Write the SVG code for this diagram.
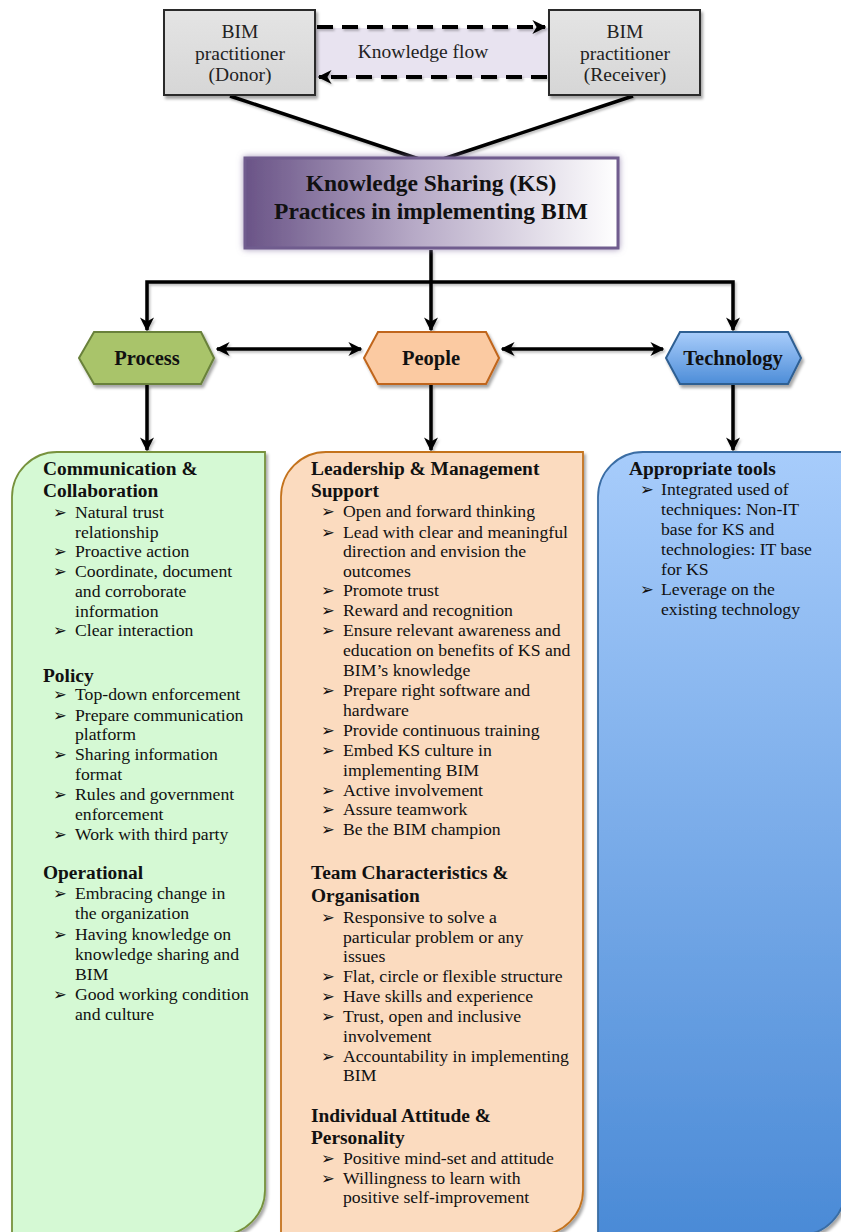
<svg xmlns="http://www.w3.org/2000/svg" width="841" height="1232" viewBox="0 0 841 1232">
  <style>
    .t { font-family: "Liberation Serif", "DejaVu Serif", serif; font-size: 17.7px; fill: #111; }
    .h { font-family: "Liberation Serif", "DejaVu Serif", serif; font-size: 19.4px; font-weight: bold; fill: #111; }
    .b { font-family: "DejaVu Sans", sans-serif; font-size: 16.5px; fill: #111; }
    .box { font-family: "Liberation Serif", "DejaVu Serif", serif; font-size: 19.5px; fill: #222; text-anchor: middle; }
    .hex { font-family: "Liberation Serif", "DejaVu Serif", serif; font-size: 20.5px; font-weight: bold; fill: #111; text-anchor: middle; }
    .ks { font-family: "Liberation Serif", "DejaVu Serif", serif; font-size: 23.5px; font-weight: bold; fill: #111; text-anchor: middle; }
    .line { fill: none; stroke: #000; stroke-width: 3.5; }
    .dash { fill: none; stroke: #000; stroke-width: 4; stroke-dasharray: 16 9; }
  </style>
  <defs>
    <filter id="shadow" x="-10%" y="-10%" width="130%" height="130%">
      <feDropShadow dx="2" dy="3" stdDeviation="1.8" flood-color="#000" flood-opacity="0.35"/>
    </filter>
    <filter id="soft" x="-5%" y="-5%" width="110%" height="110%">
      <feDropShadow dx="1.5" dy="2" stdDeviation="1.2" flood-color="#000" flood-opacity="0.25"/>
    </filter>
    <filter id="glow" x="-10%" y="-20%" width="120%" height="140%">
      <feGaussianBlur in="SourceAlpha" stdDeviation="3" result="b"/>
      <feFlood flood-color="#8a78a6" flood-opacity="0.8"/>
      <feComposite in2="b" operator="in" result="g"/>
      <feMerge><feMergeNode in="g"/><feMergeNode in="SourceGraphic"/></feMerge>
    </filter>
    <linearGradient id="ksFill" x1="0" y1="0" x2="1" y2="0">
      <stop offset="0" stop-color="#6a5487"/>
      <stop offset="0.45" stop-color="#b6a9c6"/>
      <stop offset="1" stop-color="#ffffff"/>
    </linearGradient>
    <linearGradient id="greyFill" x1="0" y1="0" x2="0" y2="1">
      <stop offset="0" stop-color="#e4e4e4"/>
      <stop offset="1" stop-color="#d6d6d6"/>
    </linearGradient>
    <linearGradient id="techHex" x1="0" y1="0" x2="0" y2="1">
      <stop offset="0" stop-color="#a9cdfb"/>
      <stop offset="1" stop-color="#4d8dd8"/>
    </linearGradient>
    <linearGradient id="techPanel" x1="0" y1="0" x2="0" y2="1">
      <stop offset="0" stop-color="#a7ccfb"/>
      <stop offset="1" stop-color="#4a8ad6"/>
    </linearGradient>
    <marker id="arr" viewBox="0 0 10 10" refX="9" refY="5" markerWidth="4" markerHeight="4" orient="auto-start-reverse" markerUnits="strokeWidth">
      <path d="M0,0 L10,5 L0,10 L3,5 Z" fill="#000"/>
    </marker>
    <marker id="arrD" viewBox="0 0 10 10" refX="9" refY="5" markerWidth="3.5" markerHeight="3.5" orient="auto" markerUnits="strokeWidth">
      <path d="M0,0 L10,5 L0,10 L3,5 Z" fill="#000"/>
    </marker>
  </defs>

  <!-- knowledge flow band between practitioners -->
  <rect x="315" y="28" width="234" height="50" fill="#e8e3f0"/>

  <!-- connectors -->
  <g id="connectors" filter="url(#soft)">
    <line class="dash" x1="317" y1="27" x2="545" y2="27" marker-end="url(#arrD)"/>
    <line class="dash" x1="547" y1="77" x2="319" y2="77" marker-end="url(#arrD)"/>
    <line class="line" x1="230" y1="96" x2="428" y2="162"/>
    <line class="line" x1="633" y1="96" x2="434" y2="162"/>
    <line class="line" x1="431" y1="250" x2="431" y2="330" marker-end="url(#arr)"/>
    <polyline class="line" points="147,330 147,282 733,282 733,330" marker-start="url(#arr)" marker-end="url(#arr)"/>
    <line class="line" x1="217" y1="349" x2="361" y2="349" marker-start="url(#arr)" marker-end="url(#arr)"/>
    <line class="line" x1="502" y1="349" x2="663" y2="349" marker-start="url(#arr)" marker-end="url(#arr)"/>
    <line class="line" x1="147" y1="385" x2="147" y2="450" marker-end="url(#arr)"/>
    <line class="line" x1="431" y1="385" x2="431" y2="450" marker-end="url(#arr)"/>
    <line class="line" x1="733" y1="385" x2="733" y2="450" marker-end="url(#arr)"/>
  </g>

  <!-- practitioners -->
  <g id="donor">
    <rect x="164" y="10" width="151" height="85" fill="url(#greyFill)" stroke="#2a2a2a" stroke-width="2" filter="url(#shadow)"/>
    <text class="box" x="240" y="38">BIM</text>
    <text class="box" x="240" y="60">practitioner</text>
    <text class="box" x="240" y="81">(Donor)</text>
  </g>
  <g id="receiver">
    <rect x="549" y="10" width="151" height="85" fill="url(#greyFill)" stroke="#2a2a2a" stroke-width="2" filter="url(#shadow)"/>
    <text class="box" x="625" y="38">BIM</text>
    <text class="box" x="625" y="60">practitioner</text>
    <text class="box" x="625" y="81">(Receiver)</text>
  </g>
  <g id="flow-label">
    <text class="box" x="423" y="58">Knowledge flow</text>
  </g>

  <!-- central practice box -->
  <g id="ks-practices">
    <rect x="245" y="158" width="373" height="90" fill="url(#ksFill)" stroke="#6f5c8e" stroke-width="3" filter="url(#glow)"/>
    <text class="ks" x="431" y="191">Knowledge Sharing (KS)</text>
    <text class="ks" x="431" y="219">Practices in implementing BIM</text>
  </g>

  <!-- pillars -->
  <g id="process">
    <polygon points="79,358 94,332 201,332 214,358 201,384 94,384" fill="#a9c46b" stroke="#69813a" stroke-width="2" filter="url(#shadow)"/>
    <text class="hex" x="147" y="365">Process</text>
  </g>
  <g id="people">
    <polygon points="364,358 378,332 486,332 499,358 486,384 378,384" fill="#fbcaa2" stroke="#c0651a" stroke-width="2" filter="url(#shadow)"/>
    <text class="hex" x="431" y="365">People</text>
  </g>
  <g id="technology">
    <polygon points="666,358 680,332 788,332 801,358 788,384 680,384" fill="url(#techHex)" stroke="#2f5f92" stroke-width="2" filter="url(#shadow)"/>
    <text class="hex" x="733" y="365">Technology</text>
  </g>

  <!-- process panel -->
  <g id="process-panel">
    <path d="M12,1240 L12,497 A45,45 0 0 1 57,452 L265,452 L265,1190 A45,45 0 0 1 220,1235 Z" fill="#d5f9d4" stroke="#77923d" stroke-width="1.8" filter="url(#shadow)"/>
    <text class="h" x="43" y="475">Communication &amp;</text>
    <text class="h" x="43" y="497">Collaboration</text>
    <text class="b" x="53" y="518">➢</text><text class="t" x="75" y="518">Natural trust</text>
    <text class="t" x="75" y="538">relationship</text>
    <text class="b" x="53" y="557">➢</text><text class="t" x="75" y="557">Proactive action</text>
    <text class="b" x="53" y="577">➢</text><text class="t" x="75" y="577">Coordinate, document</text>
    <text class="t" x="75" y="597">and corroborate</text>
    <text class="t" x="75" y="617">information</text>
    <text class="b" x="53" y="636">➢</text><text class="t" x="75" y="636">Clear interaction</text>
    <text class="h" x="43" y="682">Policy</text>
    <text class="b" x="53" y="700">➢</text><text class="t" x="75" y="700">Top-down enforcement</text>
    <text class="b" x="53" y="721">➢</text><text class="t" x="75" y="721">Prepare communication</text>
    <text class="t" x="75" y="740">platform</text>
    <text class="b" x="53" y="760">➢</text><text class="t" x="75" y="760">Sharing information</text>
    <text class="t" x="75" y="780">format</text>
    <text class="b" x="53" y="800">➢</text><text class="t" x="75" y="800">Rules and government</text>
    <text class="t" x="75" y="820">enforcement</text>
    <text class="b" x="53" y="840">➢</text><text class="t" x="75" y="840">Work with third party</text>
    <text class="h" x="43" y="879">Operational</text>
    <text class="b" x="53" y="899">➢</text><text class="t" x="75" y="899">Embracing change in</text>
    <text class="t" x="75" y="919">the organization</text>
    <text class="b" x="53" y="940">➢</text><text class="t" x="75" y="940">Having knowledge on</text>
    <text class="t" x="75" y="960">knowledge sharing and</text>
    <text class="t" x="75" y="980">BIM</text>
    <text class="b" x="53" y="1000">➢</text><text class="t" x="75" y="1000">Good working condition</text>
    <text class="t" x="75" y="1020">and culture</text>
  </g>

  <!-- people panel -->
  <g id="people-panel">
    <path d="M281,1240 L281,497 A45,45 0 0 1 326,452 L583,452 L583,1190 A45,45 0 0 1 538,1235 Z" fill="#fbdbbf" stroke="#c4731f" stroke-width="1.8" filter="url(#shadow)"/>
    <text class="h" x="311" y="475">Leadership &amp; Management</text>
    <text class="h" x="311" y="497">Support</text>
    <text class="b" x="321" y="517">➢</text><text class="t" x="343" y="517">Open and forward thinking</text>
    <text class="b" x="321" y="538">➢</text><text class="t" x="343" y="538">Lead with clear and meaningful</text>
    <text class="t" x="343" y="557">direction and envision the</text>
    <text class="t" x="343" y="577">outcomes</text>
    <text class="b" x="321" y="596">➢</text><text class="t" x="343" y="596">Promote trust</text>
    <text class="b" x="321" y="616">➢</text><text class="t" x="343" y="616">Reward and recognition</text>
    <text class="b" x="321" y="636">➢</text><text class="t" x="343" y="636">Ensure relevant awareness and</text>
    <text class="t" x="343" y="656">education on benefits of KS and</text>
    <text class="t" x="343" y="676">BIM’s knowledge</text>
    <text class="b" x="321" y="696">➢</text><text class="t" x="343" y="696">Prepare right software and</text>
    <text class="t" x="343" y="716">hardware</text>
    <text class="b" x="321" y="736">➢</text><text class="t" x="343" y="736">Provide continuous training</text>
    <text class="b" x="321" y="756">➢</text><text class="t" x="343" y="756">Embed KS culture in</text>
    <text class="t" x="343" y="776">implementing BIM</text>
    <text class="b" x="321" y="796">➢</text><text class="t" x="343" y="796">Active involvement</text>
    <text class="b" x="321" y="815">➢</text><text class="t" x="343" y="815">Assure teamwork</text>
    <text class="b" x="321" y="835">➢</text><text class="t" x="343" y="835">Be the BIM champion</text>
    <text class="h" x="311" y="879">Team Characteristics &amp;</text>
    <text class="h" x="311" y="902">Organisation</text>
    <text class="b" x="321" y="923">➢</text><text class="t" x="343" y="923">Responsive to solve a</text>
    <text class="t" x="343" y="943">particular problem or any</text>
    <text class="t" x="343" y="962">issues</text>
    <text class="b" x="321" y="982">➢</text><text class="t" x="343" y="982">Flat, circle or flexible structure</text>
    <text class="b" x="321" y="1002">➢</text><text class="t" x="343" y="1002">Have skills and experience</text>
    <text class="b" x="321" y="1022">➢</text><text class="t" x="343" y="1022">Trust, open and inclusive</text>
    <text class="t" x="343" y="1042">involvement</text>
    <text class="b" x="321" y="1062">➢</text><text class="t" x="343" y="1062">Accountability in implementing</text>
    <text class="t" x="343" y="1081">BIM</text>
    <text class="h" x="311" y="1122">Individual Attitude &amp;</text>
    <text class="h" x="311" y="1144">Personality</text>
    <text class="b" x="321" y="1164">➢</text><text class="t" x="343" y="1164">Positive mind-set and attitude</text>
    <text class="b" x="321" y="1184">➢</text><text class="t" x="343" y="1184">Willingness to learn with</text>
    <text class="t" x="343" y="1203">positive self-improvement</text>
  </g>

  <!-- technology panel -->
  <g id="technology-panel">
    <path d="M598,1240 L598,497 A45,45 0 0 1 643,452 L845,452 L845,1190 A45,45 0 0 1 800,1235 Z" fill="url(#techPanel)" stroke="#3a6da4" stroke-width="1.8" filter="url(#shadow)"/>
    <text class="h" x="629" y="475">Appropriate tools</text>
    <text class="b" x="640" y="495">➢</text><text class="t" x="661" y="495">Integrated used of</text>
    <text class="t" x="661" y="515">techniques: Non-IT</text>
    <text class="t" x="661" y="535">base for KS and</text>
    <text class="t" x="661" y="555">technologies: IT base</text>
    <text class="t" x="661" y="575">for KS</text>
    <text class="b" x="640" y="595">➢</text><text class="t" x="661" y="595">Leverage on the</text>
    <text class="t" x="661" y="615">existing technology</text>
  </g>
</svg>
